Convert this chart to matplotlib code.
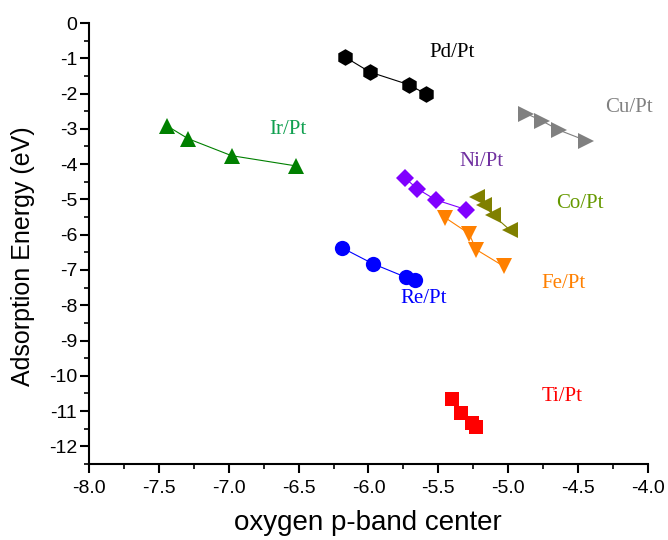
import matplotlib
matplotlib.use("Agg")
import matplotlib.pyplot as plt
from matplotlib.ticker import MultipleLocator

# oxygen p-band center (eV) vs adsorption energy (eV) for each alloy
pd_x = [-6.17, -5.99, -5.71, -5.59]
pd_y = [-0.96, -1.39, -1.75, -2.01]
ir_x = [-7.44, -7.29, -6.98, -6.52]
ir_y = [-2.92, -3.28, -3.76, -4.05]
cu_x = [-4.87, -4.76, -4.64, -4.44]
cu_y = [-2.57, -2.77, -3.03, -3.34]
ni_x = [-5.74, -5.65, -5.52, -5.30]
ni_y = [-4.39, -4.70, -5.01, -5.29]
co_x = [-5.22, -5.17, -5.11, -4.99]
co_y = [-4.93, -5.15, -5.44, -5.86]
fe_x = [-5.45, -5.28, -5.23, -5.03]
fe_y = [-5.52, -5.97, -6.42, -6.90]
re_x = [-6.19, -5.97, -5.73, -5.67]
re_y = [-6.37, -6.82, -7.21, -7.27]
ti_x = [-5.40, -5.34, -5.26, -5.23]
ti_y = [-10.65, -11.04, -11.35, -11.44]

series = [
    # x, y, marker, size, marker colour, label, label pos, label colour
    (pd_x, pd_y, "h", 12, "black", "Pd/Pt", (-5.564, -0.84), "black"),
    (ir_x, ir_y, "^", 12, "#008000", "Ir/Pt", (-6.707, -3.01), "#10a050"),
    (cu_x, cu_y, ">", 12, "#808080", "Cu/Pt", (-4.307, -2.39), "#808080"),
    (ni_x, ni_y, "D", 9, "#8000ff", "Ni/Pt", (-5.35, -3.92), "#7030a0"),
    (co_x, co_y, "<", 12, "#808000", "Co/Pt", (-4.657, -5.13), "#669900"),
    (fe_x, fe_y, "v", 12, "#ff8000", "Fe/Pt", (-4.764, -7.38), "#ff8000"),
    (re_x, re_y, "o", 11, "#0000ff", "Re/Pt", (-5.771, -7.81), "#0000ff"),
    (ti_x, ti_y, "s", 9.5, "#ff0000", "Ti/Pt", (-4.764, -10.6), "#ff0000"),
]

fig = plt.figure(figsize=(6.68, 5.40), dpi=100)
ax = fig.add_axes([0.1332, 0.1407, 0.8368, 0.8167])

for x, y, m, ms, c, lab, pos, lc in series:
    ax.plot(x, y, "-", color=c, lw=0.8, marker=m, markersize=ms,
            markeredgewidth=0, markerfacecolor=c)
    ax.text(pos[0], pos[1], lab, color=lc, fontsize=15,
            family="Liberation Serif", ha="left", va="center")

ax.set_xlim(-8.0, -4.0)
ax.set_ylim(-12.5, 0)
ax.xaxis.set_major_locator(MultipleLocator(0.5))
ax.xaxis.set_minor_locator(MultipleLocator(0.25))
ax.yaxis.set_major_locator(MultipleLocator(1))
ax.yaxis.set_minor_locator(MultipleLocator(0.5))
ax.xaxis.set_major_formatter(plt.FuncFormatter(lambda v, p: f"{v:.1f}"))
ax.yaxis.set_major_formatter(plt.FuncFormatter(lambda v, p: f"{v:.0f}"))

for s in ("top", "right"):
    ax.spines[s].set_visible(False)
for s in ("left", "bottom"):
    ax.spines[s].set_linewidth(1.5)

ax.tick_params(which="major", direction="out", length=6.5, width=1.5,
               labelsize=14)
ax.tick_params(axis="y", which="major", pad=2)
ax.tick_params(axis="x", which="major", pad=5)
ax.tick_params(which="minor", direction="out", length=3.5, width=1.2)
for t in ax.get_xticklabels() + ax.get_yticklabels():
    t.set_family("Liberation Sans")

ax.set_xlabel("oxygen p-band center", fontsize=20, family="Liberation Sans")
ax.set_ylabel("Adsorption Energy (eV)", fontsize=18, family="Liberation Sans")
ax.xaxis.set_label_coords(0.499, -0.104)
ax.yaxis.set_label_coords(-0.097, 0.472)

fig.savefig("out.png", dpi=100)
